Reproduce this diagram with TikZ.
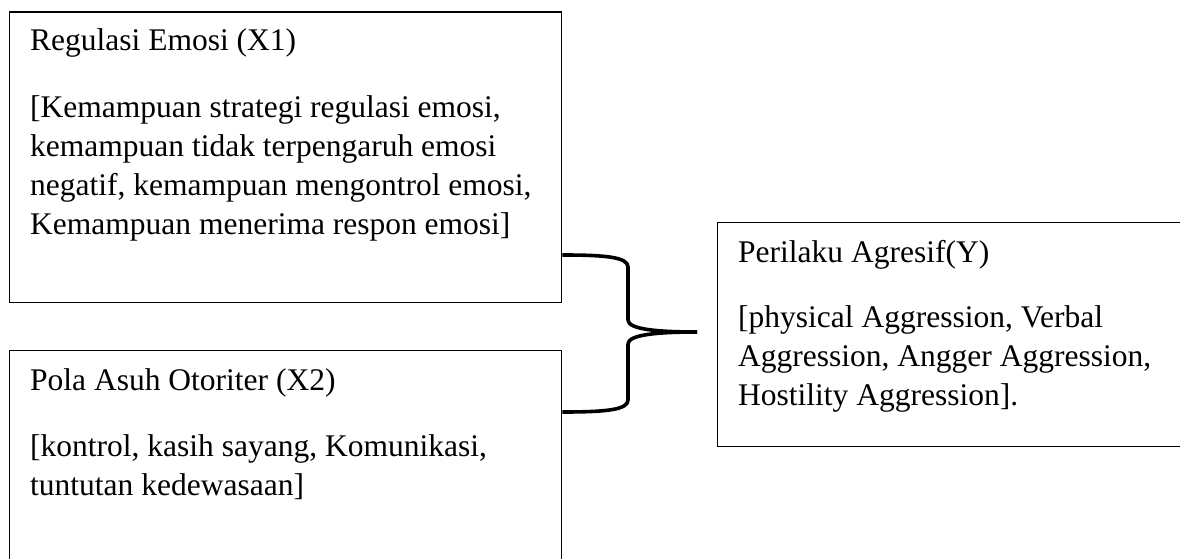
\documentclass[tikz,border=0pt]{standalone}
\usepackage{fontspec}
\setmainfont{Liberation Serif}
\begin{document}
\begin{tikzpicture}[x=1pt,y=-1pt,
  box/.style={draw=black, line width=1.3pt, rectangle, inner sep=0pt, anchor=north west},
  ttl/.style={anchor=base west, inner sep=0pt, font=\fontsize{31.5}{39}\selectfont},
  body/.style={anchor=base west, inner sep=0pt, align=left, font=\fontsize{31.5}{39}\selectfont},
  brace/.style={line width=3.6pt, line cap=butt, line join=round}]
\useasboundingbox (0,0) rectangle (1180,559);
% boxes
\node[box, minimum width=552pt, minimum height=290pt] (x1) at (9,11.5) {};
\node[box, minimum width=552pt, minimum height=260pt] (x2) at (9,350) {};
\node[box, minimum width=500pt, minimum height=224pt] (y) at (717,222) {};
% texts (base anchor = baseline of the last line)
\node[ttl] (x1t) at (30,51) {Regulasi Emosi (X1)};
\node[body] (x1b) at (30,234) {[Kemampuan strategi regulasi emosi,\\kemampuan tidak terpengaruh emosi\\negatif, kemampuan mengontrol emosi,\\Kemampuan menerima respon emosi]};
\node[ttl] (x2t) at (30,390) {Pola Asuh Otoriter (X2)};
\node[body] (x2b) at (30,495) {[kontrol, kasih sayang, Komunikasi,\\tuntutan kedewasaan]};
\node[ttl] (yt) at (738,262) {Perilaku Agresif(Y)};
\node[body] (yb) at (738,405) {[physical Aggression, Verbal\\Aggression, Angger Aggression,\\Hostility Aggression].};
% brace
\coordinate (tip) at (697,332);
\draw[brace] (x1.east |- 0,255) .. controls (605,255) and (628,257) .. (628,267)
  -- (628,320) .. controls (628,329) and (655,332) .. (tip);
\draw[brace] (x2.east |- 0,412) .. controls (605,412) and (628,410) .. (628,400)
  -- (628,344) .. controls (628,335) and (655,332) .. (tip);
\end{tikzpicture}
\end{document}
